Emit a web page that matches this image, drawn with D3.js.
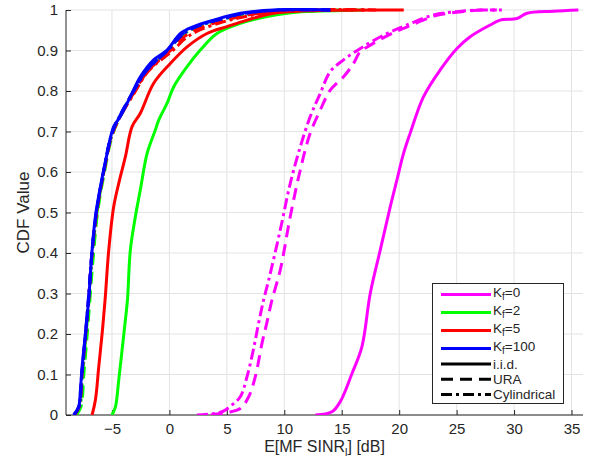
<!DOCTYPE html>
<html><head><meta charset="utf-8">
<script src="https://cdn.jsdelivr.net/npm/d3@7/dist/d3.min.js"></script>
<style>body{margin:0;background:#fff} text{font-family:"Liberation Sans",Arial,Helvetica,sans-serif;fill:#262626}</style>
</head><body><svg id="c" width="592" height="462"></svg>
<script>
// ---- data ----
const xTicks = [-5, 0, 5, 10, 15, 20, 25, 30, 35];
const yTicks = [0, 0.1, 0.2, 0.3, 0.4, 0.5, 0.6, 0.7, 0.8, 0.9, 1];
const yTickLabels = ["0", "0.1", "0.2", "0.3", "0.4", "0.5", "0.6", "0.7", "0.8", "0.9", "1"];
const kfValues = ["0", "2", "5", "100"];
const arrayTypes = ["i.i.d.", "URA", "Cylindrical"];

// Kf = 0
const kf0_iid = [[12.7,0],[14.15,0.008],[14.87,0.033],[15.9,0.103],[16.76,0.169],[17.48,0.30],[18.35,0.407],[19.22,0.514],[19.8,0.58],[20.38,0.646],[20.96,0.696],[22.12,0.786],[23.57,0.852],[25.03,0.905],[26.18,0.934],[27.92,0.963],[28.79,0.975],[30.25,0.979],[31.12,0.992],[33.4,0.997],[35.6,1]];
const kf0_ura = [[3.6,0],[5.0,0.006],[6.17,0.016],[6.9,0.045],[7.48,0.095],[8.06,0.177],[8.5,0.23],[8.93,0.284],[9.65,0.358],[10.52,0.49],[11.39,0.605],[12.26,0.696],[13.13,0.753],[14.0,0.802],[15.16,0.835],[16.03,0.868],[16.6,0.897],[17.3,0.91],[19.2,0.94],[21.0,0.962],[23.2,0.986],[25.2,0.995],[27.2,1],[28.5,1]];
const kf0_cyl = [[2.4,0],[4.58,0.008],[5.45,0.025],[6.17,0.045],[6.76,0.095],[7.3,0.16],[7.75,0.225],[8.2,0.284],[8.64,0.333],[9.65,0.457],[10.52,0.572],[11.39,0.662],[12.26,0.737],[13.13,0.794],[14.0,0.848],[15.16,0.877],[16.9,0.91],[18.94,0.942],[20.68,0.963],[23.0,0.988],[25.03,0.996],[27.05,1],[28.94,1]];
// Kf = 2
const kf2_iid = [[-5.0,0],[-4.7,0.02],[-4.41,0.086],[-4.12,0.16],[-3.83,0.235],[-3.65,0.284],[-3.4,0.407],[-2.96,0.49],[-2.53,0.556],[-1.94,0.646],[-1.22,0.704],[-0.93,0.728],[-0.2,0.77],[0.37,0.81],[1.54,0.86],[2.69,0.901],[4.14,0.942],[6.17,0.967],[8.5,0.984],[10.24,0.992],[11.98,0.996],[16.8,1]];
const kf2_ura = [[-8.1,0],[-7.7,0.02],[-7.45,0.1],[-7.15,0.2],[-6.88,0.3],[-6.6,0.4],[-6.25,0.5],[-5.65,0.6],[-4.85,0.7],[-3.05,0.8],[-1.95,0.85],[0.0,0.9],[0.9,0.93],[1.9,0.95],[3.7,0.97],[5.2,0.98],[6.8,0.99],[10.0,1],[14.5,1]];
const kf2_cyl = [[-8.2,0],[-7.8,0.02],[-7.55,0.1],[-7.25,0.2],[-6.95,0.3],[-6.7,0.4],[-6.3,0.5],[-5.7,0.6],[-4.9,0.7],[-3.1,0.8],[-2.0,0.85],[-0.1,0.9],[0.8,0.93],[1.8,0.95],[3.6,0.97],[5.0,0.98],[6.5,0.99],[9.5,1],[15.0,1]];
// Kf = 5
const kf5_iid = [[-6.73,0],[-6.44,0.037],[-6.15,0.119],[-5.86,0.2],[-5.6,0.284],[-5.28,0.407],[-4.85,0.514],[-4.41,0.572],[-3.83,0.638],[-3.25,0.712],[-2.53,0.745],[-1.37,0.819],[0.08,0.868],[1.54,0.909],[3.27,0.942],[5.02,0.959],[6.76,0.975],[9.07,0.992],[12.0,0.998],[20.4,1]];
const kf5_ura = [[-8.25,0],[-7.85,0.02],[-7.6,0.1],[-7.28,0.2],[-6.98,0.3],[-6.72,0.4],[-6.33,0.5],[-5.7,0.6],[-4.88,0.7],[-3.0,0.8],[-1.85,0.85],[0.1,0.9],[1.1,0.93],[2.2,0.95],[4.2,0.97],[5.6,0.98],[7.3,0.99],[11.0,1],[17.0,1]];
const kf5_cyl = [[-8.3,0],[-7.88,0.02],[-7.62,0.1],[-7.3,0.2],[-7.0,0.3],[-6.74,0.4],[-6.35,0.5],[-5.72,0.6],[-4.9,0.7],[-2.95,0.8],[-1.8,0.85],[0.3,0.9],[1.4,0.93],[2.6,0.95],[4.6,0.97],[6.0,0.98],[7.8,0.99],[12.0,1],[18.0,1]];
// Kf = 100
const kf100_iid = [[-8.33,0],[-7.9,0.02],[-7.75,0.06],[-7.6,0.119],[-7.31,0.2],[-7.03,0.284],[-6.73,0.407],[-6.44,0.49],[-6.0,0.564],[-5.42,0.646],[-4.85,0.712],[-4.27,0.737],[-3.4,0.786],[-2.53,0.835],[-1.37,0.877],[-0.2,0.901],[0.96,0.942],[2.11,0.959],[3.85,0.975],[6.17,0.992],[9.07,1],[14.0,1]];
const kf100_ura = [[-8.3,0],[-7.88,0.02],[-7.62,0.1],[-7.3,0.2],[-7.0,0.3],[-6.74,0.4],[-6.36,0.5],[-5.73,0.6],[-4.93,0.7],[-3.12,0.8],[-2.05,0.85],[-0.2,0.9],[0.7,0.93],[1.6,0.95],[3.4,0.97],[4.8,0.98],[6.1,0.99],[9.5,1],[14.0,1]];
const kf100_cyl = [[-8.32,0],[-7.9,0.02],[-7.63,0.1],[-7.31,0.2],[-7.02,0.3],[-6.75,0.4],[-6.37,0.5],[-5.74,0.6],[-4.94,0.7],[-3.1,0.8],[-2.0,0.85],[-0.15,0.9],[0.8,0.93],[1.7,0.95],[3.5,0.97],[4.9,0.98],[6.2,0.99],[9.6,1],[14.0,1]];

// ---- styling / config ----
const colors = ["#ff00ff", "#00ff00", "#ff0000", "#0000ff"];
const dashes = [null, "12,7", "11,4,3,4"];
const seriesData = [
  [kf0_iid, kf0_ura, kf0_cyl],
  [kf2_iid, kf2_ura, kf2_cyl],
  [kf5_iid, kf5_ura, kf5_cyl],
  [kf100_iid, kf100_ura, kf100_cyl]
];

const L = 66, R = 583, T = 10, B = 415;
const svg = d3.select("#c");
const x = d3.scaleLinear().domain([-9, 36]).range([L, R]);
const y = d3.scaleLinear().domain([0, 1]).range([B, T]);

// grid
const g = svg.append("g");
g.selectAll("line.gx").data(xTicks).join("line")
  .attr("x1", d => x(d)).attr("x2", d => x(d)).attr("y1", T).attr("y2", B)
  .attr("stroke", "#e3e3e3").attr("stroke-width", 1);
g.selectAll("line.gy").data(yTicks).join("line")
  .attr("x1", L).attr("x2", R).attr("y1", d => y(d)).attr("y2", d => y(d))
  .attr("stroke", "#e3e3e3").attr("stroke-width", 1);

// axes
const xAxis = d3.axisBottom(x).tickValues(xTicks).tickSize(-5).tickPadding(8).tickFormat(d3.format("d"));
const yAxis = d3.axisLeft(y).tickValues(yTicks).tickSize(-5).tickPadding(8).tickFormat((d, i) => yTickLabels[i]);
const gx = svg.append("g").attr("transform", `translate(0,${B})`).call(xAxis);
const gy = svg.append("g").attr("transform", `translate(${L},0)`).call(yAxis);
[gx, gy].forEach(a => {
  a.select(".domain").remove();
  a.selectAll(".tick line").attr("stroke", "#262626");
  a.selectAll(".tick text").attr("fill", "#262626").style("font-size", "15px")
    .style("font-family", '"Liberation Sans",Arial,sans-serif');
});
svg.append("line").attr("x1", L).attr("x2", L).attr("y1", T).attr("y2", B).attr("stroke", "#262626");
svg.append("line").attr("x1", L).attr("x2", R).attr("y1", B).attr("y2", B).attr("stroke", "#262626");

// curves
svg.append("clipPath").attr("id", "clip").append("rect")
  .attr("x", L).attr("y", T - 3).attr("width", R - L).attr("height", B - T + 3);
const line = d3.line().x(d => x(d[0])).y(d => y(d[1])).curve(d3.curveCatmullRom.alpha(0.5));
const cg = svg.append("g").attr("clip-path", "url(#clip)");
seriesData.forEach((arrs, ki) => {
  arrs.forEach((arr, ai) => {
    cg.append("path").datum(arr).attr("d", line)
      .attr("fill", "none").attr("stroke", colors[ki]).attr("stroke-width", 3)
      .attr("stroke-linejoin", "round")
      .attr("stroke-dasharray", dashes[ai]);
  });
});

// axis labels
svg.append("text").attr("x", (L + R) / 2).attr("y", 452).attr("text-anchor", "middle")
  .style("font-size", "16px")
  .call(t => {
    t.append("tspan").text("E[MF SINR");
    t.append("tspan").attr("dy", 4).style("font-size", "11px").text("l");
    t.append("tspan").attr("dy", -4).text("] [dB]");
  });
svg.append("text").attr("transform", `translate(29,${(T + B) / 2}) rotate(-90)`)
  .attr("text-anchor", "middle").style("font-size", "17px").text("CDF Value");

// legend
const lg = svg.append("g");
lg.append("rect").attr("x", 432.5).attr("y", 283.5).attr("width", 131).attr("height", 120)
  .attr("fill", "#fff").attr("stroke", "#262626").attr("stroke-width", 1);
const rowsY = [294.5, 312.5, 330.5, 348.5, 364, 379.3, 394.6];
kfValues.forEach((k, i) => {
  lg.append("line").attr("x1", 441).attr("x2", 491).attr("y1", rowsY[i]).attr("y2", rowsY[i])
    .attr("stroke", colors[i]).attr("stroke-width", 3);
  const t = lg.append("text").attr("x", 493).attr("y", rowsY[i] + 2).style("font-size", "13.5px");
  t.append("tspan").text("K");
  t.append("tspan").attr("dy", 3).style("font-size", "10px").text("f");
  t.append("tspan").attr("dy", -3).text("=" + k);
});
arrayTypes.forEach((a, j) => {
  const yy = rowsY[4 + j];
  lg.append("line").attr("x1", 441).attr("x2", 491).attr("y1", yy).attr("y2", yy)
    .attr("stroke", "#000").attr("stroke-width", 3).attr("stroke-dasharray", dashes[j]);
  lg.append("text").attr("x", 493).attr("y", yy + 4.5).style("font-size", "13.5px").text(a);
});
</script></body></html>
